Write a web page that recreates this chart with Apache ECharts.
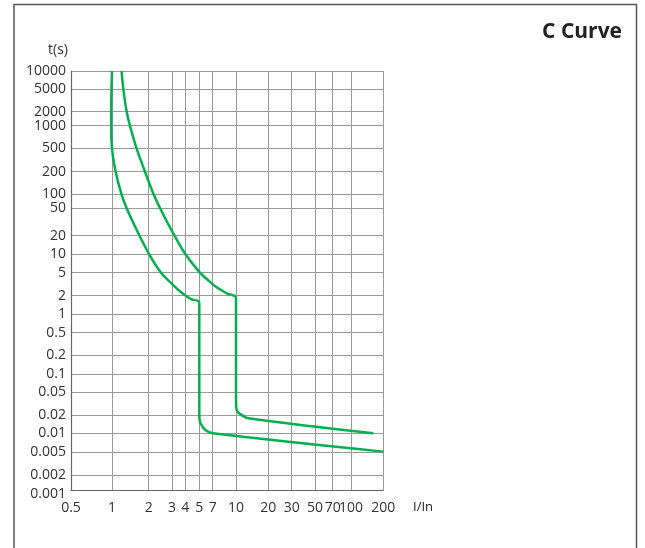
<!DOCTYPE html>
<html><head><meta charset="utf-8">
<script src="https://cdn.jsdelivr.net/npm/echarts@6/dist/echarts.min.js"></script>
<style>html,body{margin:0;padding:0;background:#fff}#c{width:645px;height:548px}</style>
</head><body><div id="c"></div>
<script>
// Tick values of the (non-uniform) reference scales and the axis-unit stop for each tick
const xTicks = [0.5, 1, 2, 3, 4, 5, 7, 10, 20, 30, 50, 70, 100, 200];
const xScale = [0, 41, 77.7, 101, 114.3, 128.3, 141.7, 165, 197.3, 220.7, 244, 261.7, 280, 312.3];
const yTicks = [0.001, 0.002, 0.005, 0.01, 0.02, 0.05, 0.1, 0.2, 0.5, 1, 2, 5, 10, 20, 50, 100, 200, 500, 1000, 2000, 5000, 10000];
const yScale = [0, 15, 38, 56.7, 75, 97.7, 116, 134.7, 157.3, 175.7, 194.3, 217.3, 235.7, 254.3, 281.7, 295.7, 318.3, 341.7, 364.3, 378.3, 400.7, 419];

// Curve values (I/In, t in s)
const lowerI = [1.0, 0.99, 0.99, 1.0, 1.10, 1.26, 1.40, 1.57, 1.75, 2.02, 2.53, 2.96, 3.71, 4.41, 5, 5, 5.1, 5.49, 6.06, 7, 200];
const lowerT = [10000, 2000, 1000, 500, 200, 100, 50, 35, 20, 10, 5, 3.66, 2.42, 1.82, 1.62, 0.02, 0.0163, 0.0136, 0.0114, 0.01, 0.0051];
const upperI = [1.26, 1.31, 1.40, 1.49, 1.67, 1.90, 2.21, 2.49, 2.79, 3.19, 4.01, 5.1, 6.3, 7.42, 8.8, 10, 10, 10.2, 11.76, 13.8, 169];
const upperT = [10000, 5000, 2000, 1000, 500, 200, 100, 50, 35, 20, 10, 5, 4.05, 3.17, 2.31, 1.86, 0.0398, 0.0266, 0.02, 0.0182, 0.01];

function mapScale(v, ticks, stops) {
  if (v <= ticks[0]) return stops[0] + (v - ticks[0]) / (ticks[1] - ticks[0]) * (stops[1] - stops[0]);
  for (let i = 1; i < ticks.length; i++) {
    if (v <= ticks[i]) {
      return stops[i - 1] + (v - ticks[i - 1]) / (ticks[i] - ticks[i - 1]) * (stops[i] - stops[i - 1]);
    }
  }
  return stops[stops.length - 1];
}
const toPts = (xs, ys) => xs.map((x, i) => [mapScale(x, xTicks, xScale), mapScale(ys[i], yTicks, yScale)]);

const FONT = 'Open Sans';
const chart = echarts.init(document.getElementById('c'));
chart.setOption({
  animation: false,
  backgroundColor: '#fff',
  title: {
    text: 'C Curve', right: 18, top: 17,
    textStyle: { fontSize: 21, fontWeight: 'bold', color: '#222', fontFamily: FONT }
  },
  grid: { left: 71, top: 71, right: 645 - 71 - 312.3, bottom: 548 - 71 - 419, containLabel: false },
  xAxis: {
    type: 'value', min: 0, max: xScale[xScale.length - 1],
    axisLine: { show: true, lineStyle: { color: '#666', width: 1.2 } },
    axisTick: { show: false, customValues: xScale },
    axisLabel: {
      customValues: xScale, margin: 11, color: '#333', fontSize: 14, fontFamily: FONT,
      formatter: v => { const i = xScale.indexOf(v); return i >= 0 ? String(xTicks[i]) : ''; }
    },
    splitLine: { show: true, lineStyle: { color: '#999', width: 1 } }
  },
  yAxis: {
    type: 'value', min: 0, max: yScale[yScale.length - 1],
    axisLine: { show: true, lineStyle: { color: '#666', width: 1.2 } },
    axisTick: { show: false, customValues: yScale },
    axisLabel: {
      customValues: yScale, margin: 5, color: '#333', fontSize: 14, fontFamily: FONT,
      formatter: v => {
        const i = yScale.indexOf(v);
        if (i < 0) return '';
        return i === 0 ? '{low|' + yTicks[i] + '}' : String(yTicks[i]);
      },
      rich: { low: { padding: [8, 0, 0, 0], fontSize: 14, fontFamily: FONT, color: '#333' } }
    },
    splitLine: { show: true, lineStyle: { color: '#999', width: 1 } }
  },
  series: [
    { type: 'line', data: toPts(lowerI, lowerT), showSymbol: false, smooth: 0.4,
      lineStyle: { color: '#00b050', width: 2.5 } },
    { type: 'line', data: toPts(upperI, upperT), showSymbol: false, smooth: 0.4,
      lineStyle: { color: '#00b050', width: 2.5 } }
  ],
  graphic: [
    { type: 'rect', shape: { x: 14, y: 4.5, width: 622.5, height: 600 },
      style: { fill: 'none', stroke: '#555', lineWidth: 1.5 }, silent: true },
    { type: 'text', x: 58, y: 50,
      style: { text: 't(s)', fill: '#333', fontSize: 14, fontFamily: FONT, align: 'center', verticalAlign: 'middle' } },
    { type: 'text', x: 413, y: 507,
      style: { text: 'I/In', fill: '#222', fontSize: 13, fontFamily: FONT, align: 'left', verticalAlign: 'middle' } }
  ]
});
</script></body></html>
